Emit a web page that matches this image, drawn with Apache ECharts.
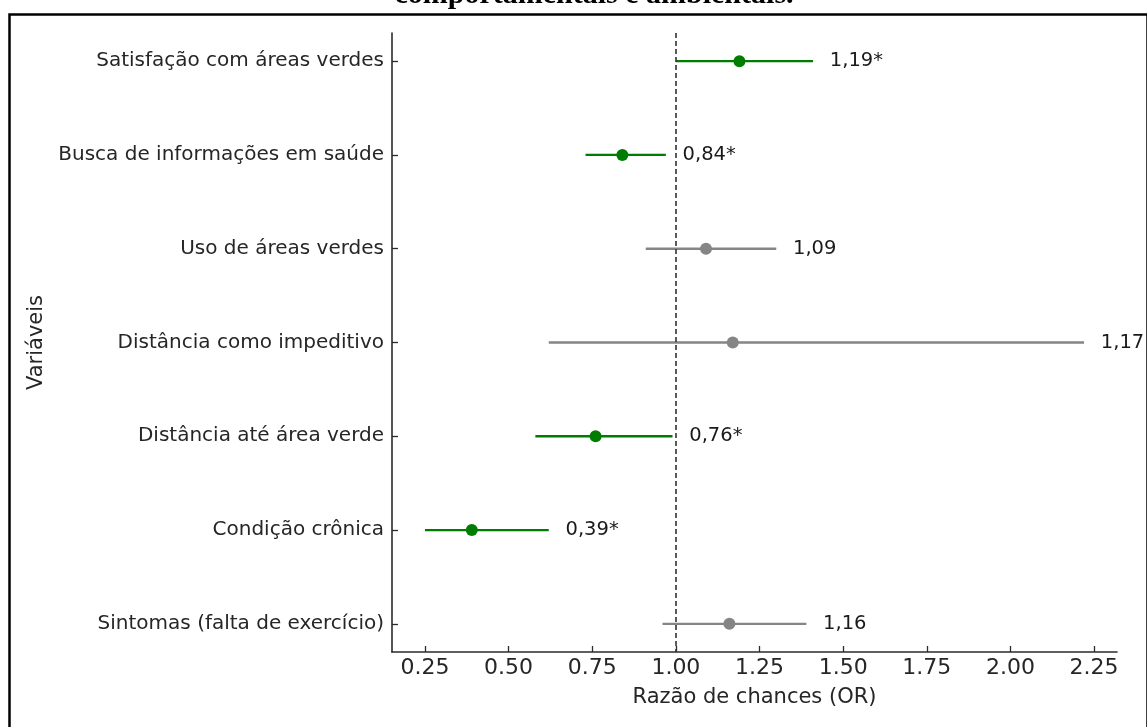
<!DOCTYPE html>
<html>
<head>
<meta charset="utf-8">
<script src="https://cdn.jsdelivr.net/npm/echarts@6/dist/echarts.min.js"></script>
<style>
html,body{margin:0;padding:0;background:#fff;}
#chart{width:1147px;height:727px;}
</style>
</head>
<body>
<div id="chart"></div>
<script>
const categories = ['Satisfação com áreas verdes','Busca de informações em saúde','Uso de áreas verdes','Distância como impeditivo','Distância até área verde','Condição crônica','Sintomas (falta de exercício)'];
const oddsRatio = [1.19, 0.84, 1.09, 1.17, 0.76, 0.39, 1.16];
const ciLower = [1.00, 0.73, 0.91, 0.62, 0.58, 0.25, 0.96];
const ciUpper = [1.41, 0.97, 1.30, 2.22, 0.99, 0.62, 1.39];
const valueLabels = ['1,19*','0,84*','1,09','1,17','0,76*','0,39*','1,16'];
const significant = [true, true, false, false, true, true, false];
const xTicks = [0.25, 0.50, 0.75, 1.00, 1.25, 1.50, 1.75, 2.00, 2.25];
const referenceLine = 1.0;
const labelOffset = 0.05;

const chart = echarts.init(document.getElementById('chart'), null, {renderer: 'canvas'});
const FONT = '"DejaVu Sans", sans-serif';
const rows = categories.map((c, i) => [i, ciLower[i], ciUpper[i], oddsRatio[i], significant[i] ? 1 : 0]);
const yIdx = categories.map((c, i) => i);

const option = {
  animation: false,
  backgroundColor: '#ffffff',
  grid: {left: 392, right: 30, top: 33, bottom: 75, outerBoundsMode: 'none', containLabel: false},
  xAxis: {
    type: 'value', min: 0.1515, max: 2.3185,
    splitLine: {show: false},
    axisLine: {show: true, onZero: false, lineStyle: {color: '#2b2b2b', width: 1.6}},
    axisTick: {show: true, inside: true, length: 6, customValues: xTicks, lineStyle: {color: '#2b2b2b', width: 1.3}},
    axisLabel: {customValues: xTicks, formatter: v => Number(v).toFixed(2), fontSize: 22, fontFamily: FONT, color: '#262626', margin: 5},
    name: 'Razão de chances (OR)', nameLocation: 'middle', nameGap: 35,
    nameTextStyle: {fontSize: 21, fontFamily: FONT, color: '#262626'}
  },
  yAxis: {
    type: 'value', min: -0.3, max: 6.3, inverse: true,
    splitLine: {show: false},
    axisLine: {show: true, onZero: false, lineStyle: {color: '#2b2b2b', width: 1.6}},
    axisTick: {show: true, inside: true, length: 6, customValues: yIdx, lineStyle: {color: '#2b2b2b', width: 1.3}},
    axisLabel: {customValues: yIdx, formatter: v => categories[Math.round(v)], fontSize: 20, fontFamily: FONT, color: '#262626', margin: 8},
    name: 'Variáveis', nameLocation: 'middle', nameGap: 339, nameRotate: 90,
    nameTextStyle: {fontSize: 21, fontFamily: FONT, color: '#262626'}
  },
  series: [{
    type: 'custom',
    data: rows,
    encode: {x: [1, 2, 3], y: 0},
    clip: false,
    renderItem: function (params, api) {
      const i = api.value(0);
      const lo = api.coord([api.value(1), i]);
      const hi = api.coord([api.value(2), i]);
      const pt = api.coord([api.value(3), i]);
      const lab = api.coord([api.value(2) + labelOffset, i]);
      const col = api.value(4) ? '#007d00' : '#858585';
      return {
        type: 'group',
        children: [
          {type: 'line', shape: {x1: lo[0], y1: lo[1], x2: hi[0], y2: hi[1]}, style: {stroke: col, lineWidth: 2.4}},
          {type: 'circle', shape: {cx: pt[0], cy: pt[1], r: 6}, style: {fill: col}},
          {type: 'text', x: lab[0], y: lab[1], style: {text: valueLabels[i], fill: '#1a1a1a', font: '19.5px ' + FONT, textAlign: 'left', textVerticalAlign: 'middle'}}
        ]
      };
    },
    markLine: {
      silent: true, symbol: ['none', 'none'], z: 10,
      label: {show: false},
      lineStyle: {color: '#333333', type: [5, 3], width: 1.6},
      data: [{xAxis: referenceLine}]
    }
  }],
  graphic: [
    {type: 'rect', left: 7, top: 12, shape: {width: 1138, height: 740}, style: {fill: 'none', stroke: '#000', lineWidth: 2.5}, silent: true, z: 100},
    {type: 'text', x: 594, y: 10, style: {text: 'comportamentais e ambientais.', font: 'bold 30px "Liberation Serif", serif', fill: '#000', textAlign: 'center', textVerticalAlign: 'bottom'}, silent: true, z: 100}
  ]
};
chart.setOption(option);
</script>
</body>
</html>
